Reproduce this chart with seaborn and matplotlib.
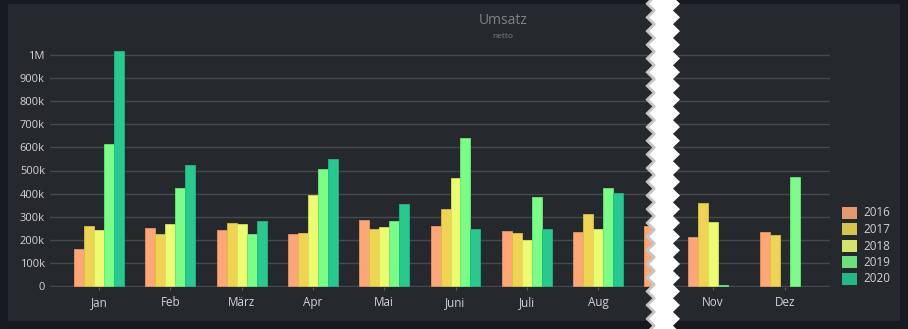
import numpy as np
import pandas as pd
import matplotlib
matplotlib.use('Agg')
import matplotlib.pyplot as plt
import seaborn as sns
from matplotlib.patches import Patch, Rectangle, Polygon
from matplotlib.colors import to_rgb

nan = np.nan

# ---- data -------------------------------------------------------------
months_left = ['Jan', 'Feb', 'März', 'Apr', 'Mai', 'Juni', 'Juli', 'Aug', 'Sep']
months_right = ['Nov', 'Dez']
months = months_left + months_right
years = ['2016', '2017', '2018', '2019', '2020']

v2016 = [161000, 251000, 242000, 226000, 287000, 258000, 236000, 233000, 258000, 210000, 235000]
v2017 = [261000, 223000, 272000, 229000, 248000, 333000, 229000, 313000, nan, 359000, 220000]
v2018 = [242000, 268000, 268000, 394000, 255000, 468000, 197000, 245000, nan, 275000, nan]
v2019 = [613000, 426000, 226000, 507000, 281000, 639000, 384000, 426000, nan, 3000, 472000]
v2020 = [1017000, 523000, 281000, 548000, 355000, 248000, 248000, 403000, nan, nan, nan]

y_ticks = [0, 100000, 200000, 300000, 400000, 500000, 600000, 700000, 800000, 900000, 1000000]
y_tick_labels = ['0', '100k', '200k', '300k', '400k', '500k', '600k', '700k', '800k', '900k', '1M']

title = 'Umsatz'
subtitle = 'netto'

bar_colors = ['#fda676', '#efd454', '#ecfb70', '#79fd86', '#27c98f']
legend_colors = ['#e2996e', '#d6c350', '#d3e36c', '#6ce07d', '#26b786']

rows = []
for y, vals in zip(years, [v2016, v2017, v2018, v2019, v2020]):
    for m, v in zip(months, vals):
        rows.append({'Monat': m, 'Jahr': y, 'Umsatz': v})
df = pd.DataFrame(rows).dropna()

# ---- figure -------------------------------------------------------------
plt.rcParams['font.family'] = ['Open Sans', 'DejaVu Sans']

W, H = 908, 329
fig = plt.figure(figsize=(W / 100, H / 100), dpi=100)
fig.patch.set_facecolor('#161920')

def fx(x):
    return x / W

def fy(y):
    return 1 - y / H

# panel background
fig.patches.append(Rectangle((fx(8), fy(321)), (900 - 8) / W, (321 - 4) / H,
                             transform=fig.transFigure, facecolor='#25282c',
                             edgecolor='none', zorder=-5))

pal = dict(zip(years, bar_colors))
px_per_unit = 231 / 1e6
y_top_px, y_bot_px = 38, 287
ylim = ((286 - y_bot_px) / px_per_unit, (286 - y_top_px) / px_per_unit)

def make_axes(x0, x1, order, center0, spacing, show_y):
    ax = fig.add_axes([fx(x0), fy(y_bot_px), (x1 - x0) / W, (y_bot_px - y_top_px) / H])
    ax.set_facecolor('none')
    sns.barplot(data=df[df['Monat'].isin(order)], x='Monat', y='Umsatz', hue='Jahr',
                order=order, hue_order=years, palette=pal, width=0.7, gap=0,
                saturation=1, errorbar=None, legend=False, ax=ax, zorder=3)
    for p in ax.patches:
        c = np.array(to_rgb(p.get_facecolor()))
        p.set_edgecolor(tuple(c * 0.9))
        p.set_linewidth(0.6)
    ax.set_xlim((x0 - center0) / spacing, (x1 - center0) / spacing)
    ax.set_ylim(*ylim)
    ax.set_axisbelow(True)
    ax.yaxis.grid(True, color='#46494e', lw=1)
    ax.xaxis.grid(False)
    for s in ax.spines.values():
        s.set_visible(False)
    ax.set_xlabel('')
    ax.set_ylabel('')
    ax.set_yticks(y_ticks)
    if show_y:
        ax.set_yticklabels(y_tick_labels)
    else:
        ax.set_yticklabels([])
    ax.tick_params(axis='y', length=0, pad=3.6, labelsize=8, labelcolor='#d2d3d4')
    ax.tick_params(axis='x', length=2.4, width=0.8, color='#5c5f64', pad=4,
                   labelsize=8.4, labelcolor='#d2d3d4')
    return ax

axL = make_axes(50, 660, months_left, 99, 71.3, True)
axR = make_axes(665, 830, months_right, 713, 72, False)

# title
fig.text(fx(503), fy(21), title, ha='center', va='center', fontsize=10, color='#7f8286')
fig.text(fx(503), fy(37), subtitle, ha='center', va='center', fontsize=6, color='#7f8286')

# legend
handles = [Patch(facecolor=c, edgecolor='none') for c in legend_colors]
fig.legend(handles, years, loc='center left', bbox_to_anchor=(fx(842), fy(246)),
           frameon=False, fontsize=8.4, labelcolor='#d2d3d4', handlelength=1.3,
           handleheight=1.2, handletextpad=0.5, labelspacing=0.3, borderaxespad=0,
           borderpad=0)

# torn-paper gap
step = 6.85
ys = np.arange(-10, H + 12, step)
left_x = np.where(np.arange(len(ys)) % 2 == 0, 645.5, 652.5)
right_x = np.where(np.arange(len(ys)) % 2 == 0, 680, 673)
pts = [(fx(x), fy(y)) for x, y in zip(left_x, ys)] + \
      [(fx(x), fy(y)) for x, y in zip(right_x[::-1], ys[::-1])]
fig.patches.append(Polygon(pts, closed=True, transform=fig.transFigure,
                           facecolor='white', edgecolor='none', zorder=20))
shadow = [(fx(x + 1.8), fy(y)) for x, y in zip(left_x, ys)]
sx, sy = zip(*shadow)
fig.add_artist(plt.Line2D(sx, sy, transform=fig.transFigure, color='#a0a0a0',
                          lw=2, alpha=0.6, zorder=21))

fig.savefig('out.png', dpi=100, facecolor=fig.get_facecolor())
